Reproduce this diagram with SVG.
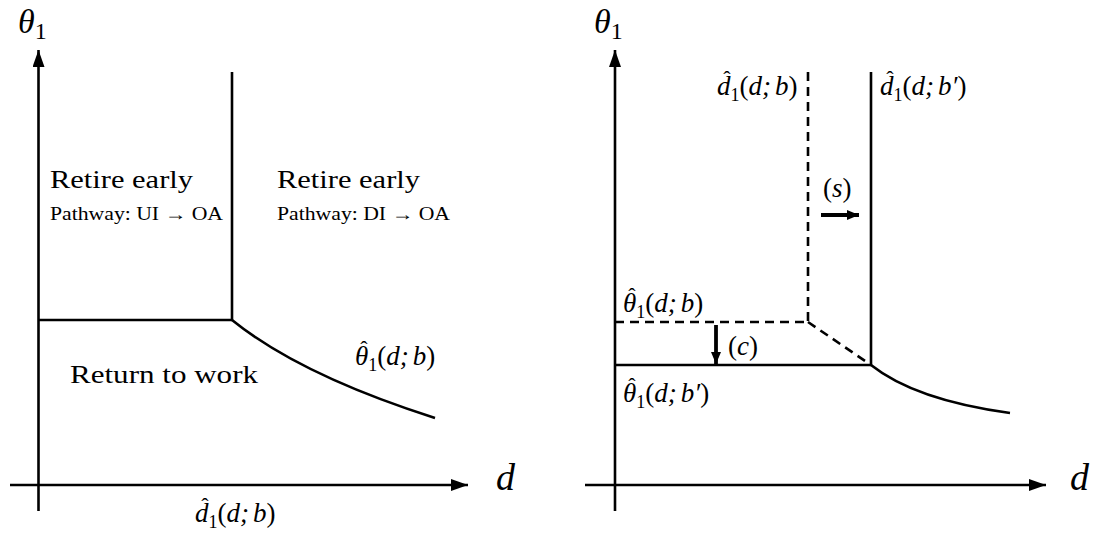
<svg xmlns="http://www.w3.org/2000/svg" width="1099" height="533" viewBox="0 0 1099 533">
<defs>
<marker id="ah" viewBox="0 0 12 10" refX="12" refY="5" markerWidth="12" markerHeight="10" markerUnits="userSpaceOnUse" orient="auto">
<path d="M0,0 L12,5 L0,10 Z" fill="#000"/>
</marker>
<marker id="ax" viewBox="0 0 17 12" refX="17" refY="6" markerWidth="17" markerHeight="12" markerUnits="userSpaceOnUse" orient="auto">
<path d="M0,0 L17,6 L0,12 Z" fill="#000"/>
</marker>
</defs>
<style>
.ln{fill:none;stroke:#000;stroke-width:2.6}
.ds{fill:none;stroke:#000;stroke-width:2.6;stroke-dasharray:9,6}
text{font-family:"Liberation Serif","Times New Roman",serif;fill:#000}
.m{font-style:italic}
.up{font-style:normal}
.hat{font-size:22px;font-style:normal}
</style>
<rect width="1099" height="533" fill="#fff"/>
<g id="connectors">
<line class="ln" x1="38.5" y1="511" x2="38.5" y2="50" marker-end="url(#ax)"/>
<line class="ln" x1="10" y1="485" x2="468" y2="485" marker-end="url(#ax)"/>
<line class="ln" x1="232" y1="72" x2="232" y2="320"/>
<line class="ln" x1="38" y1="320" x2="232" y2="320"/>
<path class="ln" d="M232,320 Q300,375 435,418"/>
<line class="ln" x1="615" y1="511" x2="615" y2="50" marker-end="url(#ax)"/>
<line class="ln" x1="585" y1="485" x2="1046" y2="485" marker-end="url(#ax)"/>
<line class="ds" x1="808" y1="72" x2="808" y2="322"/>
<line class="ds" x1="615" y1="322" x2="808" y2="322"/>
<line class="ds" x1="808" y1="322" x2="871" y2="365"/>
<line class="ln" x1="871" y1="72" x2="871" y2="365"/>
<line class="ln" x1="615" y1="365" x2="871" y2="365"/>
<path class="ln" d="M871,365 Q915,400 1010,413"/>
<line x1="716" y1="325" x2="716" y2="364" stroke="#000" stroke-width="3.8" marker-end="url(#ah)"/>
<line x1="821" y1="215" x2="859" y2="215" stroke="#000" stroke-width="3.8" marker-end="url(#ah)"/>
</g>
<g id="left-panel">
<text class="m" x="18" y="33" font-size="34">θ<tspan class="up" font-size="24" dy="6">1</tspan></text>
<text class="m" x="496" y="490" font-size="38">d</text>
<text x="50" y="188" font-size="25" textLength="143" lengthAdjust="spacingAndGlyphs">Retire early</text>
<text x="50" y="220" font-size="18" textLength="173" lengthAdjust="spacingAndGlyphs">Pathway: UI → OA</text>
<text x="277" y="188" font-size="25" textLength="143" lengthAdjust="spacingAndGlyphs">Retire early</text>
<text x="277" y="220" font-size="18" textLength="173" lengthAdjust="spacingAndGlyphs">Pathway: DI → OA</text>
<text x="70" y="383" font-size="25" textLength="188" lengthAdjust="spacingAndGlyphs">Return to work</text>
<text class="m" x="355" y="365" font-size="27">θ<tspan class="up" font-size="18" dy="6">1</tspan><tspan class="up" dy="-6">(</tspan>d;<tspan dx="4">b</tspan><tspan class="up">)</tspan><tspan class="hat" x="360.3" y="356">ˆ</tspan></text>
<text class="m" x="195" y="522" font-size="27">d<tspan class="up" font-size="18" dy="6">1</tspan><tspan class="up" dy="-6">(</tspan>d;<tspan dx="4">b</tspan><tspan class="up">)</tspan><tspan class="hat" x="201.3" y="513">ˆ</tspan></text>
</g>
<g id="right-panel">
<text class="m" x="594" y="33" font-size="34">θ<tspan class="up" font-size="24" dy="6">1</tspan></text>
<text class="m" x="1070" y="490" font-size="38">d</text>
<text class="m" x="717" y="95" font-size="27">d<tspan class="up" font-size="18" dy="6">1</tspan><tspan class="up" dy="-6">(</tspan>d;<tspan dx="4">b</tspan><tspan class="up">)</tspan><tspan class="hat" x="723.3" y="86">ˆ</tspan></text>
<text class="m" x="880" y="95" font-size="27">d<tspan class="up" font-size="18" dy="6">1</tspan><tspan class="up" dy="-6">(</tspan>d;<tspan dx="4">b′</tspan><tspan class="up">)</tspan><tspan class="hat" x="886.3" y="86">ˆ</tspan></text>
<text class="m" x="823" y="197" font-size="27"><tspan class="up">(</tspan>s<tspan class="up">)</tspan></text>
<text class="m" x="728" y="355" font-size="27"><tspan class="up">(</tspan>c<tspan class="up">)</tspan></text>
<text class="m" x="623" y="312" font-size="27">θ<tspan class="up" font-size="18" dy="6">1</tspan><tspan class="up" dy="-6">(</tspan>d;<tspan dx="4">b</tspan><tspan class="up">)</tspan><tspan class="hat" x="628.3" y="303">ˆ</tspan></text>
<text class="m" x="623" y="402" font-size="27">θ<tspan class="up" font-size="18" dy="6">1</tspan><tspan class="up" dy="-6">(</tspan>d;<tspan dx="4">b′</tspan><tspan class="up">)</tspan><tspan class="hat" x="628.3" y="393">ˆ</tspan></text>
</g>
</svg>
